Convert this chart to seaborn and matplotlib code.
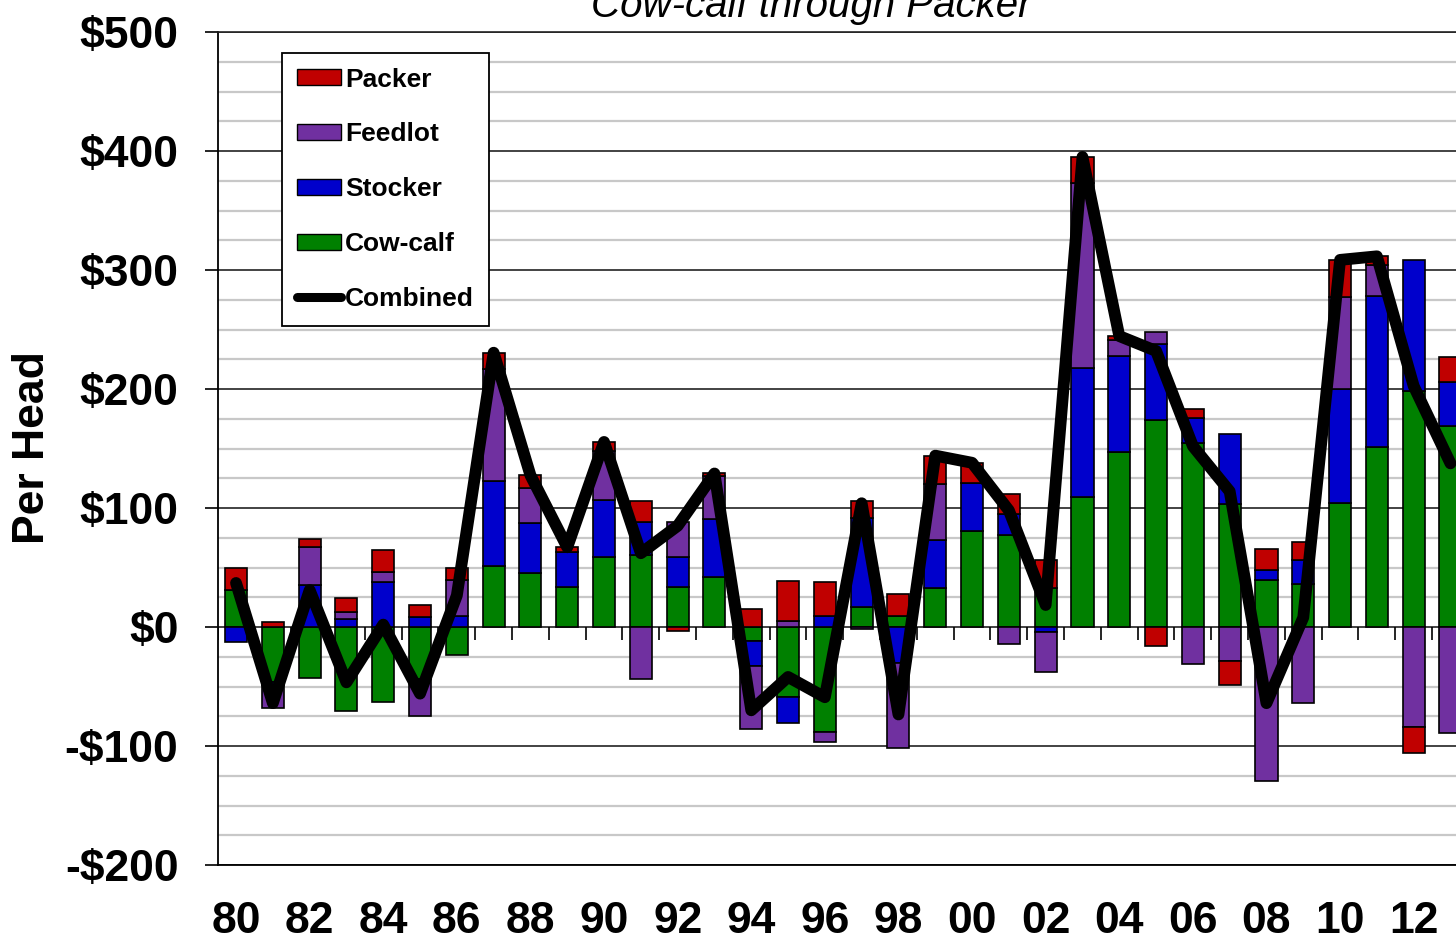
import numpy as np
import pandas as pd
import matplotlib
matplotlib.use('Agg')
import matplotlib.pyplot as plt
from matplotlib.patches import Patch
from matplotlib.lines import Line2D
from matplotlib.ticker import MultipleLocator, FuncFormatter
import seaborn as sns

years = list(range(1980, 2014))
cow_calf = [31, -46, -43, -71, -63, -44, -23.5, 51, 45, 34, 59, 60.5, 34, 42, -12, -59, -88,
            16.5, 9.5, 33, 81, 77, 33, 109.5, 147, 174, 154.5, 103.5, 39.5, 36.5, 104, 151, 198, 168.5]
stocker = [-13, -3, 35, 7, 37.5, 8.5, 9.5, 71.5, 42, 29, 48, 27.5, 25, 49, -20.5, -22, 9.5,
           75.5, -30.5, 40, 40, 18, -4.5, 108, 80.5, 64, 21, 59, 8, 19.5, 96, 127, 110, 37]
feedlot = [0, -19, 32, 6, 8.5, -30.5, 30, 94, 30, 0, 40.5, -44, 29, 36, -53, 5, -8.5,
           -2, -71, 47, 0, -14, -33, 155.5, 14, 10, -31, -28.5, -129.5, -63.5, 77, 26.5, -84, -89]
packer = [19, 4, 7, 11.5, 19, 10, 10.5, 14, 10.5, 4, 8, 18, -3, 2, 15.5, 34, 28,
          14, 18.5, 24, 17, 17, 23, 22, 3, -16, 7.5, -20, 18, 15.5, 31.5, 7, -21.5, 21]
combined = [37, -64, 31, -46.5, 2, -56, 26.5, 230.5, 127.5, 67, 155.5, 62, 85, 129, -70, -42, -59,
            104, -73.5, 144, 138, 98, 18.5, 395, 244.5, 232, 152, 114, -64, 8, 308.5, 311.5, 202.5, 137.5]
tick_labels = ['80', '82', '84', '86', '88', '90', '92', '94', '96', '98',
               '00', '02', '04', '06', '08', '10', '12']

segments = ['Cow-calf', 'Stocker', 'Feedlot', 'Packer']
colors = {'Cow-calf': '#008000', 'Stocker': '#0000CC', 'Feedlot': '#7030A0', 'Packer': '#C00000'}

sns.set_theme(style='white')
plt.rcParams['font.family'] = ['Liberation Sans', 'DejaVu Sans']
plt.rcParams['font.weight'] = 'bold'
for key in ['text.color', 'axes.labelcolor', 'xtick.color', 'ytick.color']:
    plt.rcParams[key] = 'black'

df = pd.DataFrame({'year': [str(y) for y in years], 'Cow-calf': cow_calf,
                   'Stocker': stocker, 'Feedlot': feedlot, 'Packer': packer})

fig = plt.figure(figsize=(14.56, 9.39), dpi=100)
ax = fig.add_axes([218 / 1456, 1 - 865 / 939, 1 - 218 / 1456, (865 - 32) / 939])
ax.set_axisbelow(True)

# stack positives upward and negatives downward, same order
pos_base = np.zeros(len(years))
neg_base = np.zeros(len(years))
for seg in segments:
    vals = df[seg].to_numpy(dtype=float)
    bottom = np.where(vals >= 0, pos_base, neg_base)
    sns.barplot(data=df, x='year', y=seg, bottom=bottom, color=colors[seg], saturation=1,
                edgecolor='black', linewidth=1.2, width=0.6, errorbar=None, ax=ax, zorder=3)
    pos_base += np.clip(vals, 0, None)
    neg_base += np.clip(vals, None, 0)

sns.lineplot(x=np.arange(len(years)), y=combined, color='black', linewidth=8.5, ax=ax, zorder=4)

# small ticks on the zero line between categories
ax.vlines(np.arange(len(years) + 1) - 0.5, -11, 0, color='black', lw=1.2, zorder=2)

ax.set_ylim(-200, 500)
ax.set_xlim(-0.49, 33.15)
ax.yaxis.set_major_locator(MultipleLocator(100))
ax.yaxis.set_minor_locator(MultipleLocator(25))
ax.yaxis.set_major_formatter(FuncFormatter(lambda v, p: f'${v:.0f}' if v >= 0 else f'-${-v:.0f}'))
ax.grid(which='minor', axis='y', color='#c8c8c8', lw=1.6)
ax.grid(which='major', axis='y', color='#222222', lw=1.2)
ax.grid(False, axis='x')

ax.set_xticks(range(0, len(years), 2))
ax.set_xticklabels(tick_labels)
ax.tick_params(axis='x', length=0, pad=26, labelsize=32)
ax.tick_params(axis='y', which='major', direction='out', length=9.5, width=1.2,
               color='black', pad=19, labelsize=32, left=True)
ax.tick_params(axis='y', which='minor', length=0)
ax.set_xlabel('')
ax.set_ylabel('')

for side in ['left', 'bottom']:
    ax.spines[side].set_color('black')
    ax.spines[side].set_linewidth(1.3)
ax.spines['top'].set_color('#222222')
ax.spines['top'].set_linewidth(1.2)
ax.spines['right'].set_visible(False)

handles = [Patch(facecolor=colors['Packer'], edgecolor='black', label='Packer'),
           Patch(facecolor=colors['Feedlot'], edgecolor='black', label='Feedlot'),
           Patch(facecolor=colors['Stocker'], edgecolor='black', label='Stocker'),
           Patch(facecolor=colors['Cow-calf'], edgecolor='black', label='Cow-calf'),
           Line2D([], [], color='black', lw=6.5, solid_capstyle='round', label='Combined')]
leg = ax.legend(handles=handles, loc='upper left',
                bbox_to_anchor=((282 - 218) / 1238, (865 - 53) / 833), borderaxespad=0,
                fontsize=19, frameon=True, fancybox=False, edgecolor='black', framealpha=1,
                borderpad=0.55, labelspacing=1.17, handlelength=1.7, handleheight=0.55,
                handletextpad=0.15)
leg.get_frame().set_linewidth(1.3)

fig.text(811 / 1456, 1 - 17 / 939, 'Cow-calf through Packer', ha='center', va='baseline',
         fontsize=29, style='italic', fontweight='normal')
fig.text(33 / 1456, 1 - 448 / 939, 'Per Head', rotation=90, ha='center', va='center',
         fontsize=32, fontweight='bold')

fig.savefig('out.png', dpi=100)
